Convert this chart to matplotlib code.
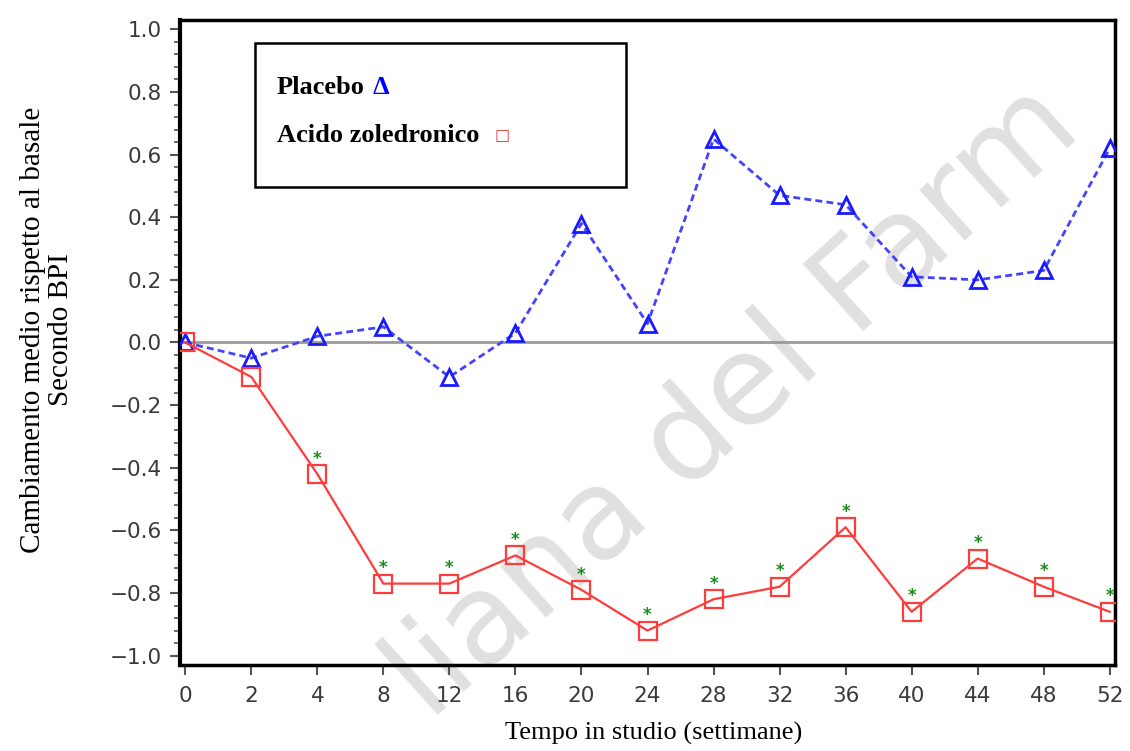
import matplotlib
matplotlib.use("Agg")
import matplotlib.pyplot as plt
from matplotlib.ticker import MultipleLocator, FixedLocator
import numpy as np

weeks = ["0", "2", "4", "8", "12", "16", "20", "24", "28", "32", "36", "40", "44", "48", "52"]
placebo = [0.0, -0.05, 0.02, 0.05, -0.11, 0.03, 0.38, 0.06, 0.65, 0.47, 0.44, 0.21, 0.20, 0.23, 0.62]
zoledronic = [0.0, -0.11, -0.42, -0.77, -0.77, -0.68, -0.79, -0.92, -0.82, -0.78, -0.59, -0.86, -0.69, -0.78, -0.86]
significant = [False, False, True, True, True, True, True, True, True, True, True, True, True, True, True]
y_ticks = [-1.0, -0.8, -0.6, -0.4, -0.2, 0.0, 0.2, 0.4, 0.6, 0.8, 1.0]

fig = plt.figure(figsize=(11.3, 7.51), dpi=100)
ax = fig.add_axes([180/1130, 1-665/751, (1115-180)/1130, (665-20)/751])
ax.patch.set_alpha(0)
ax.set_zorder(1)

x = np.arange(len(weeks))

# watermark (behind the plot)
fig.text(430/1130, 28/751, "liana del Farm", rotation=42, rotation_mode="anchor",
         fontsize=90, color="#e0e0e0", ha="left", va="baseline",
         family="DejaVu Sans", zorder=-1)

ax.axhline(0, color="#9a9a9a", lw=2, zorder=1)

ax.plot(x, placebo, color="#4444ff", lw=2, ls=(0, (2.5, 1.5)), marker="^", ms=12,
        mfc="none", mec="#1a1aff", mew=2, zorder=3)
ax.plot(x, zoledronic, color="#ff3c3c", lw=1.6, ls="-", marker="s", ms=13,
        mfc="none", mec="#ff3c3c", mew=1.6, zorder=3)

for xi, yi, s in zip(x, zoledronic, significant):
    if s:
        ax.annotate("*", (xi, yi), xytext=(0, 11), textcoords="offset points",
                    ha="center", va="center", color="#1a8a1a", fontsize=12, fontweight="bold")

ax.set_xlim(-0.08, 14.08)
ax.set_ylim(-1.03, 1.03)
ax.set_xticks(x)
ax.set_xticklabels(weeks)
ax.yaxis.set_major_locator(FixedLocator(y_ticks))
ax.set_yticklabels([f"{v:.1f}".replace("-", "\u2212") for v in y_ticks])
ax.yaxis.set_minor_locator(MultipleLocator(0.04))

for sp in ax.spines.values():
    sp.set_linewidth(2.5)
    sp.set_color("black")
ax.spines["left"].set_linewidth(3)

ax.tick_params(axis="both", which="major", direction="out", length=7, width=1.5,
               color="#555555", labelsize=15.5, labelcolor="#3a3a3a", pad=6)
ax.tick_params(axis="y", which="minor", direction="out", length=4, width=1.2, color="#555555")
ax.tick_params(axis="x", which="major", pad=8)

ax.set_xlabel("Tempo in studio (settimane)", family="Liberation Serif", fontsize=19)
ax.xaxis.set_label_coords((654-180)/935, (665-722)/645)
ax.set_ylabel("Cambiamento medio rispetto al basale\nSecondo BPI", family="Liberation Serif",
              fontsize=21, linespacing=1.1)
ax.yaxis.set_label_coords(-(180-74)/935, (665-330)/645)

# legend box
fig.add_artist(plt.Rectangle((255/1130, 1-187/751), (626-255)/1130, (187-43)/751,
                             transform=fig.transFigure, facecolor="white",
                             edgecolor="black", lw=1.8, zorder=5))
fig.text(277/1130, 1-88/751, "Placebo", family="Liberation Serif",
         fontweight="bold", fontsize=19, va="center", ha="left", zorder=6)
fig.text(373/1130, 1-88/751, "\u0394", family="Liberation Serif", fontweight="bold",
         fontsize=19, color="#0000ff", va="center", ha="left", zorder=6)
fig.text(277/1130, 1-135/751, "Acido zoledronico", family="Liberation Serif",
         fontweight="bold", fontsize=19, va="center", ha="left", zorder=6)
fig.text(495/1130, 1-135/751, "\u25a1", family="DejaVu Sans", fontsize=11.5,
         color="#e03a3a", va="center", ha="left", zorder=6)

fig.savefig("out.png", dpi=100)
